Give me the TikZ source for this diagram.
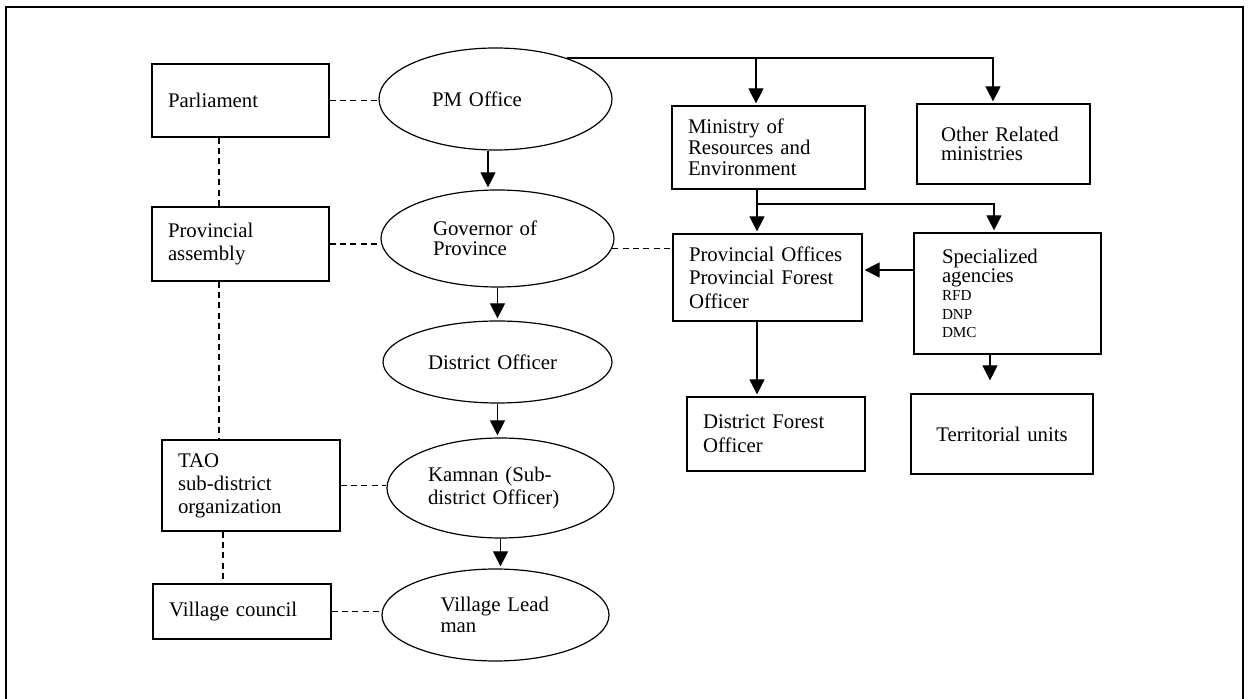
\documentclass[tikz,border=0pt]{standalone}
\usepackage{fontspec}
\setmainfont{Liberation Serif}
\usepackage{tikz}
\usetikzlibrary{arrows.meta,shapes.geometric,positioning}
\tikzset{
	unit/.style 2 args={rectangle,draw,align=left,inner xsep=8pt,inner ysep=2pt,text width=#1,minimum height=#2},
	office/.style 2 args={ellipse,draw,align=left,inner sep=1pt,minimum width=#1,minimum height=#2}
}
\tikzstyle{org_style}=[
	x=0.5pt, y=-0.5pt, line width=0.6pt,
	>={Triangle[length=7.5pt,width=7.5pt]},
	font=\fontsize{10.4}{11.5}\selectfont,
	link/.style={dash pattern=on 3pt off 2.2pt},
	flow/.style={->,shorten >=1pt},
	frame/.style={line width=1.2pt}
]
\begin{document}
\begin{tikzpicture}[org_style]
			\useasboundingbox (0,0) rectangle (1248,699);
			
			%frame
			\draw[frame] (6,699) |- (1243,7) -- (1243,699);
			
			%assemblies
			\node[unit={72.5pt}{36.5pt}] (parl) at (240.5,100.5) {Parliament};
			\node[unit={72.5pt}{37pt}] (passem) at (240.5,244) {Provincial\\assembly};
			\node[unit={73pt}{45.5pt}] (tao) at (251,485.5) {TAO\\sub-district\\organization};
			\node[unit={73pt}{27.5pt}] (vcouncil) at (242,611.5) {Village council};
			
			%offices
			\node[office={116.5pt}{51pt},text width=63.5pt] (pm) at (495.5,99) {PM Office};
			\node[office={116.5pt}{48.5pt},text width=64.5pt,font=\fontsize{10.4}{10}\selectfont] (gov) at (497.5,238.5) {Governor of\\Province};
			\node[office={114.5pt}{41pt},text width=69.5pt] (dist) at (497.5,362) {District Officer};
			\node[office={113.5pt}{50pt},text width=72.5pt] (kamnan) at (500.5,488) {Kamnan (Sub-\\district Officer)};
			\node[office={113.5pt}{46pt},text width=55pt,font=\fontsize{10.4}{10.5}\selectfont] (vlead) at (495.5,615) {Village Lead\\man};
			
			%ministries
			\node[unit={80.5pt}{41.5pt},font=\fontsize{10.4}{10.5}\selectfont] (ministry) at (768.5,147.5) {Ministry of\\Resources and\\Environment};
			\node[unit={62.5pt}{40pt},inner xsep=12pt,font=\fontsize{10.4}{9.5}\selectfont] (other) at (1003.5,144) {Other Related\\ministries};
			\node[unit={78.5pt}{43.5pt},font=\fontsize{10.4}{11.8}\selectfont] (provoff) at (767.5,277.5) {Provincial Offices\\Provincial Forest\\Officer};
			\node[unit={65.5pt}{60.5pt},inner xsep=14pt,font=\fontsize{10.4}{9.2}\selectfont] (special) at (1007.5,293.5) {Specialized\\agencies\\{\fontsize{7.6}{9.2}\selectfont RFD\\DNP\\DMC}};
			\node[unit={73pt}{37pt},font=\fontsize{10.4}{12}\selectfont] (dforest) at (776,434) {District Forest\\Officer};
			\node[unit={75pt}{40pt},align=center] (terr) at (1002,434) {Territorial units};
			
			%helper coordinates
			\coordinate (lx) at (219,0);
			\coordinate (lx2) at (223,0);
			\coordinate (px) at (488,0);
			\coordinate (mtop) at (756,0);
			\coordinate (otop) at (993,0);
			\coordinate (mx) at (757,0);
			\coordinate (fork) at (757,204);
			\coordinate (sx) at (994,0);
			\coordinate (sy) at (0,270);
			\coordinate (tx) at (990,0);
			
			%dashed links
			\path[link] (parl.east) edge (parl.east -| pm.west)
			(passem.east) edge (passem.east -| gov.west)
			(tao.east) edge (tao.east -| kamnan.west)
			(vcouncil.east) edge (vcouncil.east -| vlead.west)
			(gov.-5) edge (gov.-5 -| provoff.west)
			(parl.south -| lx) edge (passem.north -| lx)
			(passem.south -| lx) edge (tao.north -| lx)
			(tao.south -| lx2) edge (vcouncil.north -| lx2);
			
			%chain of command
			\path[flow] (pm.south -| px) edge (gov.north -| px)
			(gov) edge (dist)
			(dist.south) edge (dist.south |- kamnan.north)
			(kamnan.south) edge (kamnan.south |- vlead.north)
			(pm.30 -| mtop) edge (ministry.north -| mtop)
			(ministry.south -| mx) edge (provoff.north -| mx)
			(special.west |- sy) edge (provoff.east |- sy)
			(provoff.south -| mx) edge (dforest.north -| mx)
			(special.south -| tx) edge [shorten >=6.5pt] (terr.north -| tx);
			
			\draw[flow] (pm.30) -| (other.north -| otop);
			\draw[flow] (fork) -| (special.north -| sx);
			
\end{tikzpicture}
\end{document}
